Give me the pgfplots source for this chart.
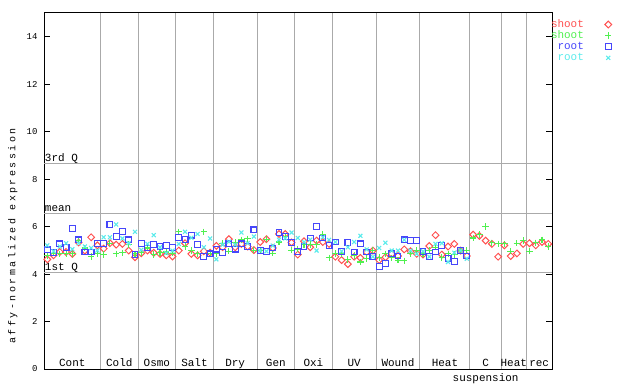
\documentclass[border=0pt]{standalone}
\usepackage{fontspec}
\setmainfont{Liberation Mono}
\setmonofont{Liberation Mono}
\usepackage{pgfplots}
\pgfplotsset{compat=1.18}
\usepackage{pgfplotstable}
\definecolor{cr}{RGB}{255,80,80}
\definecolor{cg}{RGB}{80,240,80}
\definecolor{cb}{RGB}{70,70,250}
\definecolor{cc}{RGB}{90,235,235}
\definecolor{gl}{RGB}{170,170,170}
\pgfplotstableread{
idx red green blue cyan
0 4.62 4.79 5.02 5.21
1 4.79 4.88 4.90 4.96
2 4.93 4.85 5.27 5.16
3 4.93 4.85 5.13 5.30
4 4.85 4.85 5.92 5.05
5 5.33 5.41 5.44 5.30
6 4.99 5.10 4.93 5.16
7 5.55 4.74 4.93 5.10
8 5.21 4.85 5.30 4.99
9 5.07 4.82 5.30 5.55
10 5.30 5.30 6.09 5.55
11 5.24 4.85 5.58 6.09
12 5.27 4.90 5.78 5.50
13 4.99 5.24 5.44 5.30
14 4.71 4.85 4.82 5.78
15 4.88 4.90 5.30 5.02
16 4.99 5.10 5.10 5.27
17 4.90 4.82 5.24 5.64
18 4.85 4.90 5.16 5.13
19 4.79 4.93 5.19 4.88
20 4.74 4.88 5.13 4.99
21 4.99 5.78 5.53 5.27
22 5.30 5.16 5.47 5.78
23 4.85 4.99 5.64 5.53
24 4.79 4.85 5.24 5.69
25 4.96 5.78 4.74 5.13
26 4.90 4.85 4.85 5.50
27 5.19 4.85 5.05 4.62
28 5.13 5.30 4.90 5.24
29 5.47 4.96 5.27 5.36
30 5.13 5.33 5.05 5.24
31 5.27 5.44 5.27 5.75
32 5.16 5.49 5.16 5.30
33 5.01 5.01 5.86 5.58
34 5.35 5.00 4.99 4.99
35 5.47 5.47 4.96 4.96
36 5.10 4.88 5.10 5.20
37 5.69 5.35 5.75 5.45
38 5.69 5.58 5.58 5.50
39 5.33 5.01 5.33 5.75
40 4.82 5.05 4.96 5.52
41 5.38 5.24 5.16 5.35
42 5.13 5.24 5.52 5.45
43 5.41 5.24 6.00 4.99
44 5.35 5.66 5.52 5.55
45 5.27 4.68 5.21 5.44
46 4.73 4.87 5.35 5.35
47 4.59 4.85 4.96 4.96
48 4.42 4.62 5.33 5.13
49 4.73 4.79 4.93 5.35
50 4.68 4.51 5.27 5.61
51 4.93 4.65 4.93 5.04
52 4.99 5.01 4.73 4.73
53 4.59 4.70 4.31 5.10
54 4.71 4.85 4.45 5.32
55 4.85 4.68 4.85 4.99
56 4.76 4.59 4.76 4.99
57 5.04 4.56 5.44 5.44
58 4.96 4.85 5.41 4.99
59 4.85 4.99 5.41 4.85
60 4.82 4.85 4.96 4.96
61 5.18 4.99 4.73 4.73
62 5.64 5.13 4.93 5.27
63 4.82 4.70 5.21 5.30
64 5.16 4.85 4.65 4.51
65 5.27 4.82 4.54 4.90
66 4.99 5.00 4.99 4.99
67 4.76 4.99 4.76 4.65
}\tabA
\pgfplotstableread{
idx red green
68 5.66 5.52
69 5.61 5.66
70 5.41 6.00
71 5.27 5.32
72 4.73 5.27
73 5.21 5.27
74 4.76 4.96
75 4.87 5.30
76 5.27 5.41
77 5.30 4.96
78 5.21 5.32
79 5.35 5.44
80 5.27 5.16
}\tabB
\begin{document}
\begin{tikzpicture}
\path (-44bp,-15bp) rectangle (596bp,369bp);
\begin{axis}[
  scale only axis, width=508bp, height=356bp,
  xmin=-0.527, xmax=80.6, ymin=0, ymax=15,
  clip=false,
  axis line style={black, line width=1bp},
  xtick={8.5,14.5,20.5,26.5,33.5,39.5,45.5,52.5,59.5,67.5,72.5,76.5},
  xticklabels={},
  xmajorgrids=true,
  grid style={draw=gl, line width=1bp},
  x tick style={draw=none},
  ytick={0,2,...,14},
  ytick pos=both,
  tick align=inside,
  major tick length=6bp,
  y tick style={black, line width=1bp},
  yticklabel style={font=\fontsize{9}{9}\selectfont, xshift=-3bp},
  /pgf/number format/assume math mode=true,
  legend plot pos=right,
  legend cell align=right,
  legend style={at={(rel axis cs:1,1)}, anchor=north west, xshift=-1bp, yshift=-6bp,
    draw=none, fill=none, inner sep=0pt, outer sep=0pt,
    font=\fontsize{11}{11}\selectfont, row sep=0bp, column sep=21bp,
    nodes={inner sep=0bp, text height=8.5bp, text depth=2.6bp}},
]
\addplot[gl, line width=1bp, forget plot] coordinates {(-0.527,8.67) (80.6,8.67)};
\addplot[gl, line width=1bp, forget plot] coordinates {(-0.527,6.56) (80.6,6.56)};
\addplot[gl, line width=1bp, forget plot] coordinates {(-0.527,4.07) (80.6,4.07)};

\addplot[only marks, mark=square, mark size=2.4bp, mark options={rotate=45, draw=cr, fill=none, line width=1bp}] table[x=idx,y=red] {\tabA};
\addlegendentry{\textcolor{cr}{shoot}}
\addplot[only marks, mark=+, mark size=3.2bp, mark options={draw=cg, line width=1.1bp}] table[x=idx,y=green] {\tabA};
\addlegendentry{\textcolor{cg}{shoot}}
\addplot[only marks, mark=square, mark size=2.9bp, mark options={draw=cb, fill=none, line width=1.1bp}] table[x=idx,y=blue] {\tabA};
\addlegendentry{\textcolor{cb}{root}}
\addplot[only marks, mark=x, mark size=2.8bp, mark options={draw=cc, line width=1.1bp}] table[x=idx,y=cyan] {\tabA};
\addlegendentry{\textcolor{cc}{root}}
\addplot[only marks, mark=square, mark size=2.4bp, mark options={rotate=45, draw=cr, fill=none, line width=1bp}, forget plot] table[x=idx,y=red] {\tabB};
\addplot[only marks, mark=+, mark size=3.2bp, mark options={draw=cg, line width=1.1bp}, forget plot] table[x=idx,y=green] {\tabB};

\begin{scope}[every node/.style={font=\fontsize{11}{11}\selectfont, inner sep=0pt}]
\node[anchor=base west] at (axis cs:-0.4,8.74) {3rd Q};
\node[anchor=base west] at (axis cs:-0.4,6.63) {mean};
\node[anchor=base west] at (axis cs:-0.4,4.14) {1st Q};
\node[anchor=base] at (axis cs:3.99,0.1) {Cont};
\node[anchor=base] at (axis cs:11.5,0.1) {Cold};
\node[anchor=base] at (axis cs:17.5,0.1) {Osmo};
\node[anchor=base] at (axis cs:23.5,0.1) {Salt};
\node[anchor=base] at (axis cs:30,0.1) {Dry};
\node[anchor=base] at (axis cs:36.5,0.1) {Gen};
\node[anchor=base] at (axis cs:42.5,0.1) {Oxi};
\node[anchor=base] at (axis cs:49,0.1) {UV};
\node[anchor=base] at (axis cs:56,0.1) {Wound};
\node[anchor=base] at (axis cs:63.5,0.1) {Heat};
\node[anchor=base] at (axis cs:70,0.1) {C};
\node[anchor=base] at (axis cs:70,-0.53) {suspension};
\node[anchor=base] at (axis cs:74.5,0.1) {Heat};
\node[anchor=base] at (axis cs:78.55,0.1) {rec};
\node[rotate=90, anchor=center, font=\fontsize{10}{10}\selectfont\addfontfeature{LetterSpace=25}] at (rel axis cs:-0.0616,0.374) {affy-normalized expression};
\end{scope}
\end{axis}
\end{tikzpicture}
\end{document}
